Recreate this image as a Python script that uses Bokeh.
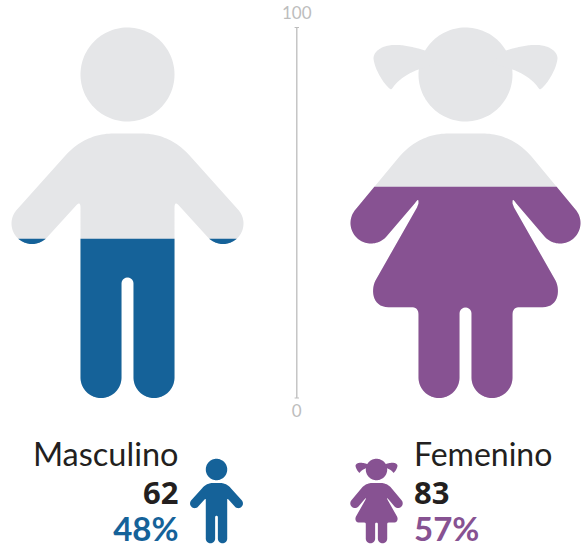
import numpy as np
from bokeh.plotting import figure
from bokeh.models import Range1d
from bokeh.core.properties import value
from bokeh.embed import file_html
from bokeh.resources import INLINE

# ---- data ----
genders = ["Masculino", "Femenino"]
counts = ["62", "83"]
shares = ["48%", "57%"]
fill_levels = [43, 57]          # height of the fill on the 0-100 scale
scale_ticks = [0, 100]
scale_labels = ["0", "100"]

BLUE = "#156299"
PURPLE = "#875292"
GREY = "#E5E6E8"
INK = "#231F20"
AXIS = "#BDBDBD"
FONT = "Lato"
BOLD_FONT = "Open Sans"

# ---- page geometry ----
W, H = 585, 548
PX_TOP, PX_BOTTOM = 27.0, 397.5
K = (PX_BOTTOM - PX_TOP) / 100.0
BASE_SHIFT = 0.41   # em, how far the svg text sits below the requested baseline


def to_val(py):
    return (PX_BOTTOM - np.asarray(py, dtype=float)) / K


# ---- outline helpers ----
def arc(cx, cy, r, a0, a1, n=48):
    t = np.radians(np.linspace(a0, a1, n))
    return list(zip(cx + r * np.cos(t), cy + r * np.sin(t)))


def bez(p0, p1, p2, p3, n=24):
    t = np.linspace(0, 1, n)[:, None]
    p0, p1, p2, p3 = map(np.array, (p0, p1, p2, p3))
    pts = (1-t)**3*p0 + 3*(1-t)**2*t*p1 + 3*(1-t)*t**2*p2 + t**3*p3
    return [tuple(q) for q in pts]


def mirror(half, cx):
    return half + [(2 * cx - x, y) for x, y in reversed(half)]


def ang(dx, dy):
    return np.degrees(np.arctan2(dy, dx))


def boy_polys(cx=127.0):
    n = np.array([-0.741, -0.671])
    hand = np.array([31.5, 223.0])
    r = 20.5
    half = [(cx, 133.0), (113, 133.0)]
    half += bez((113, 133), (95, 133), (78, 140), (64, 156))
    a0 = ang(*n)
    a1 = ang(*(-n))
    if a1 > a0:
        a1 -= 360
    half += arc(hand[0], hand[1], r, a0, a1)
    half += bez((75.6, 205), (77.5, 202.6), (80, 201.5), (80, 207), 10)
    half += arc(100.5, 377, r, 180, 0)
    half += [(121, 283)] + arc(127, 283, 6, 180, 270, 12)
    body = mirror(half, cx)
    head = arc(cx, 74, 47, 0, 360, 120)
    return [head, body]


def girl_polys(cx=465.0):
    n = np.array([-0.754, -0.657])
    hand = np.array([370.5, 222.5])
    r = 20.5
    half = [(cx, 133.0), (448, 133.0)]
    half += bez((448, 133), (430, 133), (413, 140), (399, 156))
    a0 = ang(*n)
    a1 = ang(*(-n))
    if a1 > a0:
        a1 -= 360
    half += arc(hand[0], hand[1], r, a0, a1)
    half += bez((414.6, 202.5), (416, 200.5), (418, 197.5), (418, 201), 8)
    half += [(418, 203), (416.5, 207), (375, 280)]
    half += bez((375, 280), (370, 290), (372, 306.7), (388, 306.7), 16)
    half += bez((411, 306.7), (415.5, 306.7), (418, 309), (418, 314), 10)
    half += arc(438.5, 377, r, 180, 0)
    half += [(459, 313)] + arc(465, 313, 6, 180, 270, 12)
    body = mirror(half, cx)
    head = arc(cx, 74, 47, 0, 360, 120)
    tail = bez((424.5, 50), (412, 46), (400, 44), (393, 44.5))
    tail += bez((393, 44.5), (381, 45), (373, 51), (373, 58))
    tail += bez((373, 58), (374, 68), (382, 82), (389, 88))
    tail += bez((389, 88), (390, 89.2), (391, 89), (392, 87.5), 6)
    tail += bez((392, 87.5), (398, 79), (407, 73), (418, 69))
    tail += [(440, 62)]
    tail_r = [(2 * cx - x, y) for x, y in tail]
    return [head, tail, tail_r, body]


def clip_below(poly, py):
    """Part of a polygon that lies below the page-pixel level py."""
    out = []
    m = len(poly)
    for i in range(m):
        a, b = poly[i], poly[(i + 1) % m]
        ina, inb = a[1] >= py, b[1] >= py
        if ina:
            out.append(a)
        if ina != inb:
            t = (py - a[1]) / (b[1] - a[1])
            out.append((a[0] + t * (b[0] - a[0]), py))
    return out


def small(polys, cx, big_cx, s=0.228, cy=469.0):
    return [[(cx + (x - big_cx) * s, cy + (y - 74.0) * s) for x, y in poly] for poly in polys]


def add(p, polys, color):
    polys = [q for q in polys if len(q) > 2]
    xs = [[pt[0] for pt in q] for q in polys]
    ys = [to_val([pt[1] for pt in q]).tolist() for q in polys]
    p.patches(xs, ys, fill_color=color, line_color=None)


# ---- figure ----
p = figure(width=W, height=H, output_backend="svg", toolbar_location=None,
           x_range=Range1d(0, W),
           y_range=Range1d(float(to_val(H)), float(to_val(0))),
           min_border=0, outline_line_color=None)
p.axis.visible = False
p.grid.visible = False

boy, girl = boy_polys(), girl_polys()

add(p, boy, GREY)
add(p, girl, GREY)
for polys, lvl, col in ((boy, fill_levels[0], BLUE), (girl, fill_levels[1], PURPLE)):
    level_px = PX_BOTTOM - lvl * K
    add(p, [clip_below(q, level_px) for q in polys], col)

add(p, small(boy, 216.0, 127.0), BLUE)
add(p, small(girl, 376.0, 465.0), PURPLE)

# ---- scale ----
AX = 296.3
p.segment([AX], [scale_ticks[0]], [AX], [scale_ticks[1]], line_color=AXIS, line_width=1.3)
p.segment([AX - 2.2] * 2, scale_ticks, [AX + 2.2] * 2, scale_ticks, line_color=AXIS, line_width=1)
lab_y = [float(to_val(417 - BASE_SHIFT * 17)), float(to_val(19 - BASE_SHIFT * 17))]
p.text([AX] * 2, lab_y, text=scale_labels, text_font=value(FONT), text_font_size="17px",
       text_color=AXIS, text_align="center", text_baseline="alphabetic")

# ---- legend texts ----
rows = [466, 505, 541.5]


def label(x, base_px, txt, size, color, align, style, font):
    y = float(to_val(base_px - BASE_SHIFT * size))
    p.text([x], [y], text=[txt], text_font=value(font), text_font_size=f"{size}px",
           text_color=color, text_align=align, text_baseline="alphabetic", text_font_style=style)


label(178, rows[0], genders[0], 32.5, INK, "right", "normal", FONT)
label(178, rows[1], counts[0], 31, INK, "right", "bold", BOLD_FONT)
label(178, rows[2], shares[0], 33, BLUE, "right", "bold", FONT)
label(413.5, rows[0], genders[1], 32, INK, "left", "normal", FONT)
label(413.5, rows[1], counts[1], 31, INK, "left", "bold", BOLD_FONT)
label(413.5, rows[2], shares[1], 33, PURPLE, "left", "bold", FONT)

open("out.html", "w").write(file_html(p, INLINE))
